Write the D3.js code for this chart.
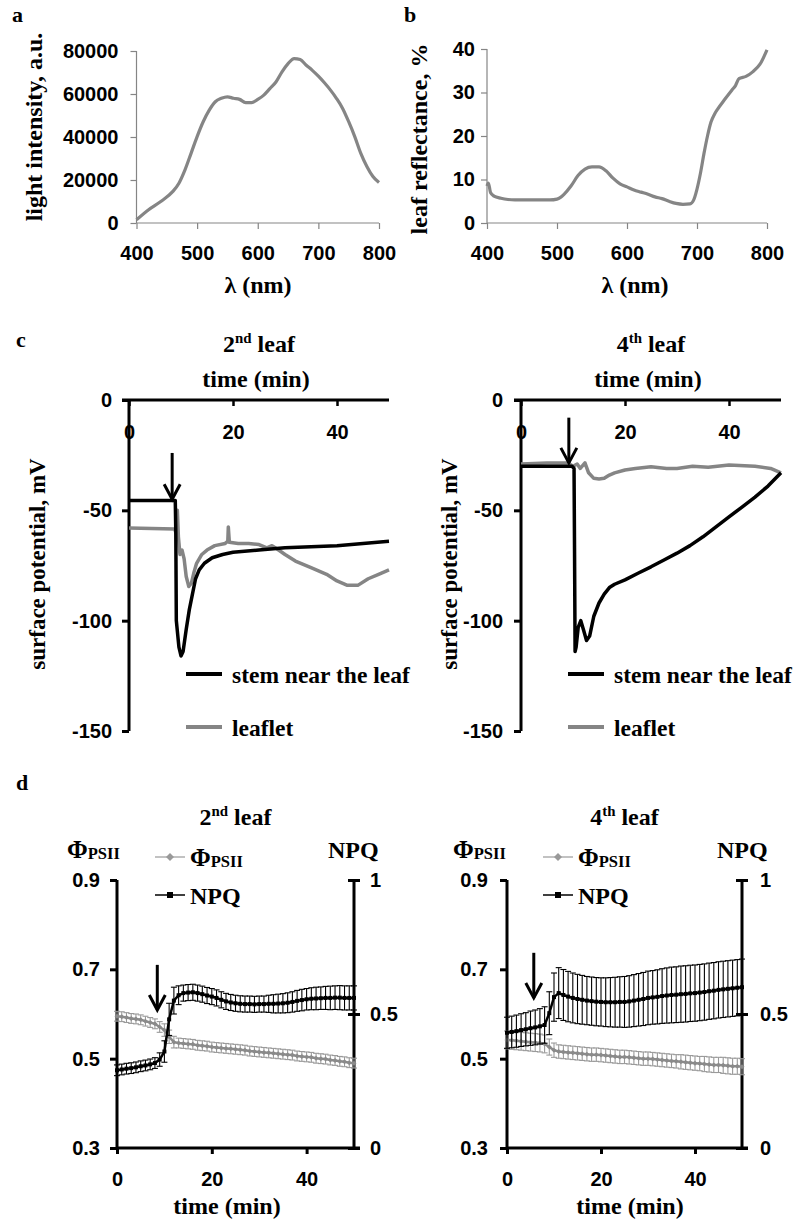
<!DOCTYPE html>
<html><head><meta charset="utf-8">
<script src="https://cdn.jsdelivr.net/npm/d3@7"></script>
<style>body{margin:0;background:#fff}svg{display:block}</style>
</head><body>
<script>
// ---------- DATA ----------
// Panel a: light spectrum
const aWave = [400,420,440,460,470,480,490,500,510,520,530,540,550,560,570,580,590,600,610,620,630,640,650,660,670,680,690,700,710,720,730,740,750,760,770,780,790,800];
const aIntensity = [1500,6200,10000,14700,18500,24700,32400,40200,47100,52500,56400,58000,58700,58000,57500,56000,56000,57500,59500,62500,65600,70300,74100,76500,76000,73400,71000,68300,65200,61800,57900,53300,47100,40200,32400,26300,21600,18800];
const aYTicks = [0,20000,40000,60000,80000];
const nmTicks = [400,500,600,700,800];
// Panel b: leaf reflectance
const bWave = [400,402,405,410,420,430,440,450,460,470,480,490,500,505,510,520,530,540,550,560,570,580,590,600,610,620,630,640,650,660,670,680,690,695,700,705,710,715,720,725,730,740,750,755,760,770,780,790,800];
const bReflect = [8.5,9.2,7.0,6.2,5.7,5.4,5.3,5.3,5.3,5.3,5.3,5.3,5.5,5.9,6.6,8.5,10.9,12.4,12.9,12.9,12.0,10.3,9.0,8.3,7.6,7.1,6.6,6.0,5.6,5.0,4.5,4.3,4.4,5.2,7.8,11.5,16.0,20.0,23.2,25.0,26.3,28.5,30.6,31.6,33.2,33.7,34.8,36.5,39.8];
const bYTicks = [0,10,20,30,40];
// Panel c: surface potential (mV) vs time (min)
const c2StemT = [0,8.9,9.0,9.1,9.6,10.0,10.4,11.0,11.6,12.2,12.8,13.5,14.5,16,18,20,25,30,35,40,45,50];
const c2StemV = [-45.5,-45.5,-60,-100,-112,-116,-114,-104,-95,-88,-81,-77,-74,-71.5,-70,-69,-68,-67,-66.5,-66,-65,-64];
const c2LeafT = [0,8.8,9.0,9.3,9.5,9.8,10.2,10.6,11.0,11.5,12.0,12.5,13,14,15,16.5,18.5,19,19.1,19.3,21,23,25,26.5,27.5,28.5,30,32,35,38,40,42,44,46,48,50];
const c2LeafV = [-58,-58.5,-60,-50,-62,-70,-68,-72,-80,-84.5,-83,-78,-74,-70,-68,-66,-65,-64,-57.5,-64.5,-65,-65,-65.5,-67,-66,-67.5,-70,-73,-76,-79,-82,-84,-84,-81,-79,-77];
const c4StemT = [0,9.8,10.2,10.3,10.4,10.6,11.0,11.5,12.0,12.6,13.2,14,15,16,17,18,20,22.5,25,27.5,30,32.5,35,37.5,40,42.5,45,47.5,50];
const c4StemV = [-30,-30,-31,-70,-114,-112,-103,-100,-104,-109,-107,-98,-92,-88,-85,-83.5,-81.5,-78.5,-75.6,-72.5,-69.4,-66,-62,-57.5,-53,-48.5,-44,-39,-33];
const c4LeafT = [0,5,9,10,10.8,11.4,12.3,13,14,15,16,17,18,20,22,25,28,30,33,36,40,43,45,48,50];
const c4LeafV = [-29,-28.5,-28.5,-30,-29,-31,-28.5,-33,-35.5,-35.8,-35.5,-34,-33,-31.7,-31,-30.2,-31,-31,-30,-30.5,-29.5,-29.8,-30,-31,-33];
const cYTicks = [0,-50,-100,-150];
const cXTicks = [0,20,40];
const cArrow2 = [8.3,-24,-45];   // time, top value, tip value
const cArrow4 = [9.2,-8,-28.5];
// Panel d: PhiPSII and NPQ, 1-min steps 0..50
const dTime = d3.range(0,51);
const d2Phi = [0.595,0.594,0.592,0.59,0.589,0.587,0.584,0.581,0.578,0.571,0.564,0.549,0.537,0.535,0.534,0.533,0.532,0.53,0.529,0.528,0.526,0.525,0.524,0.523,0.522,0.521,0.52,0.519,0.517,0.516,0.515,0.514,0.513,0.512,0.511,0.51,0.509,0.508,0.506,0.505,0.504,0.503,0.501,0.5,0.499,0.497,0.496,0.494,0.493,0.491,0.49];
const d2PhiErr = [0.011,0.011,0.011,0.011,0.011,0.011,0.011,0.011,0.011,0.012,0.014,0.015,0.013,0.011,0.011,0.011,0.011,0.011,0.011,0.011,0.011,0.011,0.011,0.011,0.011,0.011,0.011,0.011,0.011,0.011,0.011,0.011,0.011,0.011,0.011,0.011,0.011,0.011,0.011,0.011,0.011,0.011,0.011,0.011,0.011,0.011,0.011,0.011,0.011,0.011,0.011];
const d2NPQ = [0.29,0.293,0.296,0.298,0.301,0.305,0.308,0.312,0.317,0.33,0.36,0.48,0.55,0.57,0.578,0.58,0.581,0.578,0.574,0.569,0.565,0.56,0.553,0.547,0.543,0.54,0.538,0.537,0.537,0.536,0.537,0.537,0.538,0.538,0.539,0.54,0.542,0.545,0.549,0.552,0.555,0.557,0.558,0.559,0.56,0.56,0.561,0.561,0.56,0.56,0.56];
const d2NPQErr = [0.02,0.02,0.02,0.02,0.02,0.02,0.02,0.02,0.02,0.025,0.04,0.06,0.05,0.035,0.03,0.03,0.03,0.03,0.03,0.03,0.03,0.03,0.03,0.03,0.03,0.03,0.03,0.03,0.03,0.03,0.03,0.03,0.032,0.034,0.035,0.036,0.037,0.038,0.039,0.04,0.04,0.041,0.042,0.042,0.043,0.044,0.044,0.045,0.045,0.045,0.045];
const d4Phi = [0.542,0.541,0.54,0.539,0.538,0.537,0.536,0.535,0.533,0.526,0.519,0.516,0.515,0.514,0.513,0.512,0.511,0.51,0.509,0.509,0.508,0.507,0.506,0.505,0.504,0.504,0.503,0.502,0.501,0.5,0.5,0.499,0.498,0.497,0.496,0.495,0.494,0.493,0.492,0.491,0.49,0.489,0.488,0.487,0.486,0.486,0.485,0.484,0.483,0.483,0.482];
const d4PhiErr = [0.02,0.02,0.02,0.02,0.02,0.02,0.02,0.02,0.02,0.018,0.016,0.015,0.015,0.015,0.015,0.015,0.015,0.015,0.015,0.015,0.015,0.015,0.015,0.015,0.015,0.015,0.015,0.015,0.015,0.015,0.015,0.015,0.015,0.015,0.015,0.015,0.015,0.016,0.016,0.016,0.016,0.016,0.017,0.017,0.017,0.017,0.018,0.018,0.018,0.018,0.018];
const d4NPQ = [0.43,0.433,0.436,0.44,0.443,0.447,0.45,0.454,0.459,0.503,0.563,0.578,0.571,0.565,0.56,0.556,0.553,0.55,0.548,0.546,0.545,0.544,0.544,0.544,0.545,0.545,0.547,0.55,0.553,0.556,0.56,0.562,0.564,0.567,0.569,0.571,0.572,0.574,0.575,0.577,0.578,0.58,0.582,0.585,0.587,0.59,0.592,0.594,0.596,0.598,0.6];
const d4NPQErr = [0.058,0.059,0.06,0.061,0.062,0.064,0.065,0.066,0.068,0.08,0.09,0.095,0.095,0.094,0.093,0.092,0.091,0.09,0.09,0.09,0.09,0.091,0.092,0.093,0.094,0.095,0.096,0.097,0.098,0.099,0.1,0.1,0.101,0.102,0.103,0.104,0.104,0.105,0.105,0.105,0.105,0.105,0.105,0.105,0.105,0.105,0.105,0.105,0.105,0.105,0.105];
const dPhiTicks = [0.3,0.5,0.7,0.9];
const dNPQTicks = [0,0.5,1];
const dXTicks = [0,20,40];
const dArrow2 = [8.5,0.71,0.609];
const dArrow4 = [5.7,0.737,0.636];

// ---------- DRAW ----------
const SERIF = '"Liberation Serif","Times New Roman",serif';
const SANS = '"Liberation Sans",Arial,sans-serif';
const GRAY = '#858585';
const hyph = d => String(d).replace('\u2212','-');
const svg = d3.select('body').append('svg').attr('width',800).attr('height',1220);

function text(x,y,str,size,family,anchor,rot){
  const t = svg.append('text').attr('font-family',family).attr('font-weight','bold')
    .attr('font-size',size).attr('text-anchor',anchor||'start').attr('fill','#000');
  if(rot){ t.attr('transform',`translate(${x},${y}) rotate(-90)`); } else { t.attr('x',x).attr('y',y); }
  t.text(str); return t;
}
function supText(cx,y,main,sup,rest,size){
  const t = svg.append('text').attr('x',cx).attr('y',y).attr('text-anchor','middle')
    .attr('font-family',SERIF).attr('font-weight','bold').attr('font-size',size);
  t.append('tspan').text(main);
  t.append('tspan').attr('font-size',size*0.62).attr('dy',-size*0.38).text(sup);
  t.append('tspan').attr('dy',size*0.38).text(rest);
}
function phiText(x,y,size){
  const t = svg.append('text').attr('x',x).attr('y',y)
    .attr('font-family',SERIF).attr('font-weight','bold').attr('font-size',size);
  t.append('tspan').text('Φ');
  t.append('tspan').attr('font-size',size*0.66).attr('dy',1).text('PSII');
}
function styleAxis(g,color,w,size){
  g.select('.domain').remove();
  g.selectAll('.tick line').attr('stroke',color).attr('stroke-width',w);
  g.selectAll('.tick text').attr('fill','#000').attr('font-family',SANS).attr('font-weight','bold').attr('font-size',size);
}
function arrow(x,y1,y2){
  const g = svg.append('g').attr('stroke','#000').attr('stroke-width',3).attr('fill','none');
  g.append('line').attr('x1',x).attr('x2',x).attr('y1',y1).attr('y2',y2);
  g.append('path').attr('d',`M${x-8},${y2-15}L${x},${y2}L${x+8},${y2-15}`);
}

// ----- Panel a -----
{
  const x = d3.scaleLinear([400,800],[136.5,379]);
  const y = d3.scaleLinear([0,80000],[223,51]);
  const gy = svg.append('g').attr('transform',`translate(${x(400)},0)`)
    .call(d3.axisLeft(y).tickValues(aYTicks).tickSize(6).tickPadding(12).tickFormat(d3.format('d')));
  styleAxis(gy,GRAY,1.2,20);
  const gx = svg.append('g').attr('transform',`translate(0,${y(0)})`)
    .call(d3.axisBottom(x).tickValues(nmTicks).tickSize(6).tickPadding(17));
  styleAxis(gx,GRAY,1.2,20);
  svg.append('line').attr('x1',x(400)).attr('x2',x(400)).attr('y1',y(80000)).attr('y2',y(0)).attr('stroke',GRAY).attr('stroke-width',1.2);
  svg.append('line').attr('x1',x(400)).attr('x2',x(800)).attr('y1',y(0)).attr('y2',y(0)).attr('stroke',GRAY).attr('stroke-width',1.2);
  svg.append('path').datum(aWave.map((w,i)=>[w,aIntensity[i]]))
    .attr('d',d3.line().x(d=>x(d[0])).y(d=>y(d[1])).curve(d3.curveMonotoneX))
    .attr('fill','none').attr('stroke',GRAY).attr('stroke-width',3.2);
  text(258,293,'λ (nm)',24,SERIF,'middle');
  text(42,127,'light intensity, a.u.',24,SERIF,'middle',true);
  text(12,22,'a',22,SERIF,'start');
}
// ----- Panel b -----
{
  const x = d3.scaleLinear([400,800],[487,767]);
  const y = d3.scaleLinear([0,40],[223,49]);
  const gy = svg.append('g').attr('transform',`translate(${x(400)},0)`)
    .call(d3.axisLeft(y).tickValues(bYTicks).tickSize(6).tickPadding(6));
  styleAxis(gy,GRAY,1.2,20);
  const gx = svg.append('g').attr('transform',`translate(0,${y(0)})`)
    .call(d3.axisBottom(x).tickValues(nmTicks).tickSize(6).tickPadding(17));
  styleAxis(gx,GRAY,1.2,20);
  svg.append('line').attr('x1',x(400)).attr('x2',x(400)).attr('y1',y(40)).attr('y2',y(0)).attr('stroke',GRAY).attr('stroke-width',1.2);
  svg.append('line').attr('x1',x(400)).attr('x2',x(800)).attr('y1',y(0)).attr('y2',y(0)).attr('stroke',GRAY).attr('stroke-width',1.2);
  svg.append('path').datum(bWave.map((w,i)=>[w,bReflect[i]]))
    .attr('d',d3.line().x(d=>x(d[0])).y(d=>y(d[1])).curve(d3.curveMonotoneX))
    .attr('fill','none').attr('stroke',GRAY).attr('stroke-width',3.2);
  text(635,293,'λ (nm)',24,SERIF,'middle');
  text(427,139,'leaf reflectance, %',24,SERIF,'middle',true);
  text(404,22,'b',22,SERIF,'start');
}
// ----- Panel c -----
function panelC(x0, title, stemT, stemV, leafT, leafV, arr, ytitleX, ylabPad, legX){
  const x = d3.scaleLinear([0,50],[x0,x0+260]);
  const y = d3.scaleLinear([0,-150],[400,731]);
  const gx = svg.append('g').attr('transform',`translate(0,${y(0)})`)
    .call(d3.axisBottom(x).tickValues(cXTicks).tickSize(6).tickPadding(19));
  styleAxis(gx,'#000',2.5,20);
  const gy = svg.append('g').attr('transform',`translate(${x(0)},0)`)
    .call(d3.axisLeft(y).tickValues(cYTicks).tickSize(7).tickPadding(ylabPad).tickFormat(d=>hyph(d3.format('d')(d))));
  styleAxis(gy,'#000',3,20);
  svg.append('line').attr('x1',x(0)).attr('x2',x(0)).attr('y1',y(0)).attr('y2',y(-150)).attr('stroke','#000').attr('stroke-width',3);
  svg.append('line').attr('x1',x(0)-7).attr('x2',x(50)).attr('y1',y(0)).attr('y2',y(0)).attr('stroke','#000').attr('stroke-width',3);
  const line = d3.line().x(d=>x(d[0])).y(d=>y(d[1]));
  svg.append('path').datum(leafT.map((t,i)=>[t,leafV[i]])).attr('d',line)
    .attr('fill','none').attr('stroke',GRAY).attr('stroke-width',3.5).attr('stroke-linejoin','round');
  svg.append('path').datum(stemT.map((t,i)=>[t,stemV[i]])).attr('d',line)
    .attr('fill','none').attr('stroke','#000').attr('stroke-width',3.5).attr('stroke-linejoin','round');
  arrow(x(arr[0]),y(arr[1]),y(arr[2]));
  supText(x(25), 352, title[0], title[1], ' leaf', 24);
  text(x(25)-3, 387, 'time (min)', 24, SERIF, 'middle');
  text(ytitleX, 564, 'surface potential, mV', 23, SERIF, 'middle', true);
  svg.append('line').attr('x1',legX).attr('x2',legX+36).attr('y1',674).attr('y2',674).attr('stroke','#000').attr('stroke-width',4);
  text(legX+46, 683, 'stem near the leaf', 23.5, SERIF, 'start');
  svg.append('line').attr('x1',legX).attr('x2',legX+36).attr('y1',727).attr('y2',727).attr('stroke',GRAY).attr('stroke-width',4);
  text(legX+46, 736, 'leaflet', 23.5, SERIF, 'start');
}
text(16,347,'c',22,SERIF,'start');
panelC(129, ['2','nd'], c2StemT, c2StemV, c2LeafT, c2LeafV, cArrow2, 45, 10, 186);
panelC(521, ['4','th'], c4StemT, c4StemV, c4LeafT, c4LeafV, cArrow4, 457, 11, 568);

// ----- Panel d -----
function panelD(x0, x1, title, phi, phiErr, npq, npqErr, arr, lPad, rPad, phiX, npqX, legX, timeX){
  const x = d3.scaleLinear([0,50],[x0,x1]);
  const yL = d3.scaleLinear([0.3,0.9],[1148,880]);
  const yR = d3.scaleLinear([0,1],[1148,880]);
  const gl = svg.append('g').attr('transform',`translate(${x0},0)`)
    .call(d3.axisLeft(yL).tickValues(dPhiTicks).tickSize(7).tickPadding(lPad).tickFormat(d3.format('.1f')));
  styleAxis(gl,'#000',3,20);
  const gr = svg.append('g').attr('transform',`translate(${x1},0)`)
    .call(d3.axisRight(yR).tickValues(dNPQTicks).tickSize(6).tickPadding(rPad).tickFormat(d=>d===0.5?'0.5':d3.format('d')(d)));
  styleAxis(gr,'#000',3,20);
  gr.selectAll('.tick line').attr('x1',-6);
  const gb = svg.append('g').attr('transform',`translate(0,1148)`)
    .call(d3.axisBottom(x).tickValues(dXTicks).tickSize(6).tickPadding(18));
  styleAxis(gb,'#000',3,20);
  svg.append('line').attr('x1',x0).attr('x2',x0).attr('y1',880).attr('y2',1148).attr('stroke','#000').attr('stroke-width',3);
  svg.append('line').attr('x1',x1).attr('x2',x1).attr('y1',880).attr('y2',1148).attr('stroke','#000').attr('stroke-width',3);
  svg.append('line').attr('x1',x0).attr('x2',x1+6).attr('y1',1148).attr('y2',1148).attr('stroke','#000').attr('stroke-width',3);
  function errBars(vals, errs, sc, color){
    const g = svg.append('g').attr('stroke',color).attr('stroke-width',1.1);
    dTime.forEach((t,i)=>{
      const cx = x(t), top = sc(vals[i]+errs[i]), bot = sc(vals[i]-errs[i]);
      g.append('line').attr('x1',cx).attr('x2',cx).attr('y1',top).attr('y2',bot);
      g.append('line').attr('x1',cx-3).attr('x2',cx+3).attr('y1',top).attr('y2',top);
      g.append('line').attr('x1',cx-3).attr('x2',cx+3).attr('y1',bot).attr('y2',bot);
    });
  }
  errBars(phi, phiErr, yL, '#9a9a9a');
  svg.append('path').datum(dTime.map((t,i)=>[t,phi[i]])).attr('d',d3.line().x(d=>x(d[0])).y(d=>yL(d[1])))
    .attr('fill','none').attr('stroke','#8a8a8a').attr('stroke-width',2.5);
  svg.append('g').selectAll('path').data(dTime).join('path')
    .attr('d',(t,i)=>`M${x(t)},${yL(phi[i])-2.5}l2.5,2.5l-2.5,2.5l-2.5,-2.5z`).attr('fill','#8a8a8a');
  errBars(npq, npqErr, yR, '#000');
  svg.append('path').datum(dTime.map((t,i)=>[t,npq[i]])).attr('d',d3.line().x(d=>x(d[0])).y(d=>yR(d[1])))
    .attr('fill','none').attr('stroke','#000').attr('stroke-width',2.5);
  svg.append('g').selectAll('rect').data(dTime).join('rect')
    .attr('x',t=>x(t)-2).attr('y',(t,i)=>yR(npq[i])-2).attr('width',4).attr('height',4).attr('fill','#000');
  arrow(x(arr[0]), yL(arr[1]), yL(arr[2]));
  supText((x0+x1)/2, 825, title[0], title[1], ' leaf', 24);
  phiText(phiX, 858, 25);
  text(npqX, 858, 'NPQ', 24, SERIF, 'start');
  svg.append('line').attr('x1',legX).attr('x2',legX+30).attr('y1',857).attr('y2',857).attr('stroke','#999').attr('stroke-width',1.2);
  svg.append('path').attr('d',`M${legX+15},${853}l4,4l-4,4l-4,-4z`).attr('fill','#999');
  phiText(legX+35, 866, 25);
  svg.append('line').attr('x1',legX).attr('x2',legX+30).attr('y1',895).attr('y2',895).attr('stroke','#000').attr('stroke-width',1.5);
  svg.append('rect').attr('x',legX+12).attr('y',892).attr('width',6).attr('height',6).attr('fill','#000');
  text(legX+35, 904, 'NPQ', 24, SERIF, 'start');
  text(timeX, 1214, 'time (min)', 24, SERIF, 'middle');
}
text(16,790,'d',22,SERIF,'start');
panelD(117, 354, ['2','nd'], d2Phi, d2PhiErr, d2NPQ, d2NPQErr, dArrow2, 10, 10, 67, 328, 155, 227);
panelD(507, 742, ['4','th'], d4Phi, d4PhiErr, d4NPQ, d4NPQErr, dArrow4, 12, 12, 453, 717, 543, 630);
</script>
</body></html>
